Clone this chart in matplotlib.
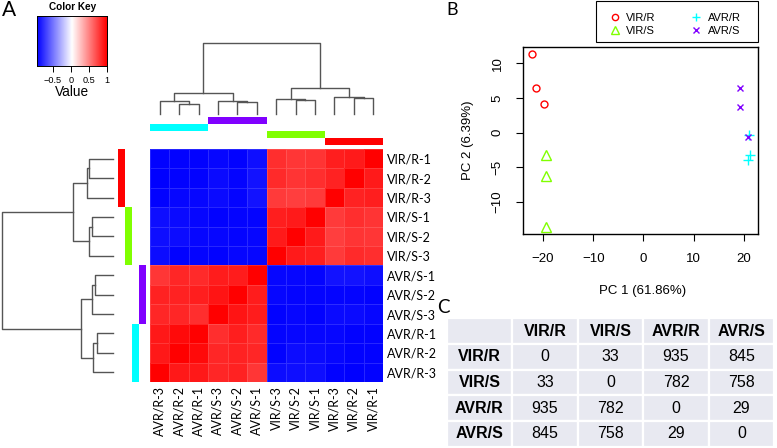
import numpy as np
import matplotlib
matplotlib.use("Agg")
import matplotlib.pyplot as plt
from matplotlib.colors import LinearSegmentedColormap
from matplotlib.patches import Rectangle
from matplotlib.lines import Line2D

plt.rcParams['font.family'] = ['Liberation Sans', 'DejaVu Sans']

W, H = 777, 448

# samples in heatmap row order (columns run the other way round)
samples = ["VIR/R-1", "VIR/R-2", "VIR/R-3", "VIR/S-1", "VIR/S-2", "VIR/S-3",
           "AVR/S-1", "AVR/S-2", "AVR/S-3", "AVR/R-1", "AVR/R-2", "AVR/R-3"]
col_samples = samples[::-1]

# correlation values as shown (rows = samples, cols = col_samples)
corr = [
    [-0.92, -0.92, -0.92, -0.90, -0.92, -0.87, 0.82, 0.79, 0.80, 0.88, 0.90, 1.00],
    [-0.93, -0.92, -0.92, -0.89, -0.91, -0.86, 0.84, 0.80, 0.82, 0.87, 1.00, 0.90],
    [-0.92, -0.90, -0.90, -0.89, -0.91, -0.86, 0.78, 0.76, 0.78, 1.00, 0.87, 0.88],
    [-0.87, -0.89, -0.90, -0.92, -0.91, -0.91, 0.88, 0.90, 1.00, 0.78, 0.82, 0.80],
    [-0.87, -0.88, -0.90, -0.90, -0.91, -0.90, 0.90, 1.00, 0.90, 0.76, 0.80, 0.79],
    [-0.88, -0.92, -0.91, -0.92, -0.90, -0.90, 1.00, 0.90, 0.88, 0.78, 0.84, 0.82],
    [0.79, 0.85, 0.84, 0.89, 0.89, 1.00, -0.90, -0.90, -0.91, -0.86, -0.86, -0.87],
    [0.87, 0.87, 0.885, 0.92, 1.00, 0.89, -0.90, -0.91, -0.91, -0.91, -0.91, -0.92],
    [0.85, 0.85, 0.82, 1.00, 0.92, 0.89, -0.92, -0.90, -0.92, -0.89, -0.89, -0.90],
    [0.905, 0.96, 1.00, 0.82, 0.885, 0.84, -0.91, -0.90, -0.90, -0.90, -0.92, -0.92],
    [0.905, 1.00, 0.96, 0.85, 0.87, 0.85, -0.92, -0.88, -0.89, -0.90, -0.92, -0.92],
    [1.00, 0.905, 0.905, 0.85, 0.87, 0.79, -0.88, -0.87, -0.87, -0.92, -0.93, -0.92],
]
vmin, vmax = -0.93, 1.0

# hierarchical clustering merges: (a, b, height); "mK" = result of merge K
merges = [
    ("VIR/R-1", "VIR/R-2", 0.220),
    ("m0", "VIR/R-3", 0.236),
    ("VIR/S-1", "VIR/S-2", 0.192),
    ("m2", "VIR/S-3", 0.212),
    ("m1", "m3", 0.360),
    ("AVR/S-1", "AVR/S-2", 0.163),
    ("m5", "AVR/S-3", 0.190),
    ("AVR/R-1", "AVR/R-2", 0.146),
    ("m7", "AVR/R-3", 0.181),
    ("m6", "m8", 0.290),
    ("m4", "m9", 1.000),
]

groups = ["VIR/R", "VIR/S", "AVR/R", "AVR/S"]
group_colors = ["#FF0000", "#80FF00", "#00FFFF", "#8000FF"]

# PCA scores
vir_r_pc1 = [-22.1, -21.4, -19.9]
vir_r_pc2 = [11.3, 6.4, 4.1]
vir_s_pc1 = [-19.5, -19.45, -19.5]
vir_s_pc2 = [-3.2, -6.2, -13.6]
avr_r_pc1 = [20.9, 21.2, 20.8]
avr_r_pc2 = [-0.3, -3.2, -3.9]
avr_s_pc1 = [19.3, 19.3, 20.8]
avr_s_pc2 = [6.4, 3.7, -0.6]

# DE gene counts between groups
de_counts = [[0, 33, 935, 845],
             [33, 0, 782, 758],
             [935, 782, 0, 29],
             [845, 758, 29, 0]]


def px(x0, y0, x1, y1):
    return [x0 / W, 1 - y1 / H, (x1 - x0) / W, (y1 - y0) / H]


def draw_dendro(ax, leaf_pos, side):
    pos = dict(leaf_pos)
    hgt = {k: 0.0 for k in leaf_pos}
    for k, (a, b, h) in enumerate(merges):
        xs = [pos[a], pos[a], pos[b], pos[b]]
        ys = [hgt[a], h, h, hgt[b]]
        if side == "top":
            ax.plot(xs, ys, color="#555555", lw=1, clip_on=False)
        else:
            ax.plot(ys, xs, color="#555555", lw=1, clip_on=False)
        pos["m%d" % k] = (pos[a] + pos[b]) / 2
        hgt["m%d" % k] = h


fig = plt.figure(figsize=(W / 100, H / 100), dpi=100)

ov = fig.add_axes([0, 0, 1, 1])
ov.set_xlim(0, W)
ov.set_ylim(H, 0)
ov.axis("off")

cmap = LinearSegmentedColormap.from_list("bluered", ["#0000FF", "#FFFFFF", "#FF0000"])

# heatmap
hx0, hy0, hx1, hy1 = 150, 149, 383, 382
ax_h = fig.add_axes(px(hx0, hy0, hx1, hy1))
ax_h.pcolormesh(np.array(corr), cmap=cmap, vmin=vmin, vmax=vmax,
                edgecolors=(1, 1, 1, 0.14), linewidth=0.5)
ax_h.set_xlim(0, 12)
ax_h.set_ylim(12, 0)
ax_h.set_xticks(np.arange(12) + 0.5)
ax_h.set_xticklabels(col_samples, rotation=90, fontfamily="Lato", fontsize=9)
ax_h.yaxis.tick_right()
ax_h.set_yticks(np.arange(12) + 0.5)
ax_h.set_yticklabels(samples, fontfamily="Lato", fontsize=9)
ax_h.tick_params(length=0, pad=3)
for s in ax_h.spines.values():
    s.set_visible(False)

# dendrograms
ax_cd = fig.add_axes(px(hx0, 43, hx1, 114))
draw_dendro(ax_cd, {s: i + 0.5 for i, s in enumerate(col_samples)}, "top")
ax_cd.set_xlim(0, 12)
ax_cd.set_ylim(0, 1)
ax_cd.axis("off")

ax_rd = fig.add_axes(px(1.7, hy0, 113, hy1))
draw_dendro(ax_rd, {s: i + 0.5 for i, s in enumerate(samples)}, "left")
ax_rd.set_xlim(1, 0)
ax_rd.set_ylim(12, 0)
ax_rd.axis("off")

# side colour bars
cs = (hx1 - hx0) / 12
row_lane = {"VIR/R": 0, "VIR/S": 1, "AVR/R": 2, "AVR/S": 3}
col_lane = {"AVR/S": 0, "AVR/R": 1, "VIR/S": 2, "VIR/R": 3}
for g, c in zip(groups, group_colors):
    rows = [i for i, s in enumerate(samples) if s.rsplit("-", 1)[0] == g]
    ov.add_patch(Rectangle((118 + row_lane[g] * 6.9, hy0 + min(rows) * cs), 6.9,
                           len(rows) * cs, color=c, lw=0))
    cols = [i for i, s in enumerate(col_samples) if s.rsplit("-", 1)[0] == g]
    ov.add_patch(Rectangle((hx0 + min(cols) * cs, 117.3 + col_lane[g] * 6.85),
                           len(cols) * cs, 6.85, color=c, lw=0))

# colour key
ax_k = fig.add_axes(px(37.3, 16, 107, 66))
ax_k.imshow(np.linspace(vmin, vmax, 256)[None, :], aspect="auto", cmap=cmap,
            vmin=vmin, vmax=vmax, extent=[vmin, vmax, 0, 1])
ax_k.set_xticks([-0.5, 0, 0.5, 1])
ax_k.set_xticklabels(["\u22120.5", "0", "0.5", "1"])
ax_k.set_yticks([])
ax_k.tick_params(axis="x", length=4, width=0.7, pad=3, labelsize=6.6)
ax_k.set_title("Color Key", fontsize=7.2, fontweight="bold", pad=4)
ax_k.set_xlabel("Value", fontsize=9.8, labelpad=0)
for s in ax_k.spines.values():
    s.set_linewidth(0.7)

# PCA panel
ax_p = fig.add_axes(px(523, 47, 758.3, 234.3))
pca = [(vir_r_pc1, vir_r_pc2, "o"), (vir_s_pc1, vir_s_pc2, "^"),
       (avr_r_pc1, avr_r_pc2, "+"), (avr_s_pc1, avr_s_pc2, "x")]
handles = []
for (x, y, m), g, c in zip(pca, groups, group_colors):
    ms = 5 if m in ("o", "x") else 6.5
    ax_p.plot(x, y, ls="none", marker=m, ms=ms, mfc="none", mec=c, mew=1)
    handles.append(Line2D([], [], ls="none", marker=m, ms=ms * 0.9, mfc="none",
                          mec=c, mew=1))
ax_p.set_xlim(-23.98, 22.85)
ax_p.set_ylim(-14.64, 12.34)
ax_p.set_xticks([-20, -10, 0, 10, 20])
ax_p.set_yticks([-10, -5, 0, 5, 10])
ax_p.tick_params(direction="out", length=5.3, width=0.8, pad=8.5, labelsize=9.5)
for lbl in ax_p.get_yticklabels():
    lbl.set_rotation(90)
    lbl.set_va("center")
for s in ax_p.spines.values():
    s.set_linewidth(1)
ov.text(642.7, 291, "PC 1 (61.86%)", fontsize=9.5, ha="center", va="center")
ov.text(468, 140.5, "PC 2 (6.39%)", fontsize=9.5, ha="center", va="center",
        rotation=90)

fig.legend(handles, groups, ncol=2, loc="upper left",
           bbox_to_anchor=(598 / W, 1 - 1.5 / H), frameon=False, fontsize=8,
           handlelength=1, handletextpad=0.5, columnspacing=3.2, borderpad=0.5,
           labelspacing=0.3)
ov.add_patch(Rectangle((596.3, 0.7), 162, 41.6, fill=False, ec="black", lw=0.8))

# DE table
ax_t = fig.add_axes(px(446.7, 318.3, 774.3, 446.7))
ax_t.axis("off")
cell_text = [[""] + groups] + [[g] + [str(v) for v in row]
                               for g, row in zip(groups, de_counts)]
tbl = ax_t.table(cellText=cell_text, bbox=[0, 0, 1, 1], cellLoc="center")
tbl.auto_set_font_size(False)
tbl.set_fontsize(11.5)
for (r, c), cell in tbl.get_celld().items():
    cell.set_facecolor("#E8E9F1")
    cell.set_edgecolor("white")
    cell.set_linewidth(1.6)
    if r == 0 or c == 0:
        cell.get_text().set_fontweight("bold")

# panel letters
ov.text(2, 16, "A", fontfamily="Lato", fontsize=15, va="baseline")
ov.text(446.5, 15, "B", fontfamily="Lato", fontsize=13, va="baseline")
ov.text(437, 313, "C", fontfamily="Lato", fontsize=13.5, va="baseline")

fig.savefig("out.png", dpi=100)
